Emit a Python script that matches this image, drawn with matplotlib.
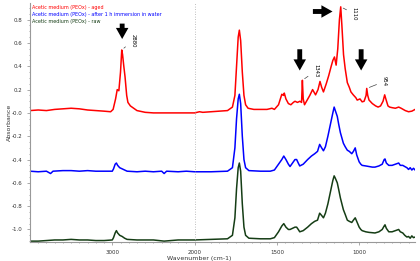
import numpy as np
import matplotlib
matplotlib.use("Agg")
import matplotlib.pyplot as plt
from matplotlib.ticker import FixedLocator, MultipleLocator

# spectra: wavenumber (cm-1), absorbance
wn_red = [4000, 3900, 3800, 3700, 3600, 3500, 3400, 3300, 3200, 3100, 3020, 2990, 2960, 2940,
          2920, 2900, 2885, 2875, 2860, 2845, 2825, 2810, 2780, 2740, 2700, 2600, 2500, 2400,
          2300, 2200, 2100, 2000, 1970, 1950, 1900, 1800, 1770, 1755, 1745, 1735, 1728, 1720,
          1710, 1700, 1690, 1675, 1640, 1600, 1560, 1530, 1515, 1490, 1470, 1460, 1455, 1445,
          1430, 1415, 1400, 1390, 1375, 1360, 1350, 1345, 1340, 1332, 1320, 1300, 1283, 1265,
          1250, 1238, 1228, 1217, 1200, 1185, 1170, 1160, 1150, 1140, 1130, 1120, 1112, 1105,
          1095, 1085, 1072, 1060, 1050, 1036, 1020, 1012, 995, 982, 970, 958, 954, 948, 940,
          920, 900, 885, 870, 855, 845, 838, 825, 815, 800, 780, 760, 745, 720, 700, 680, 660]
ab_red = [0.02, 0.025, 0.02, 0.03, 0.035, 0.04, 0.035, 0.025, 0.02, 0.015, 0.01, 0.03, 0.12, 0.20,
          0.19, 0.35, 0.54, 0.50, 0.40, 0.31, 0.15, 0.09, 0.06, 0.04, 0.02, 0.005, 0.0, 0.0,
          0.0, 0.0, 0.0, 0.0, 0.01, 0.005, 0.01, 0.02, 0.05, 0.15, 0.40, 0.65, 0.71, 0.62,
          0.35, 0.15, 0.07, 0.04, 0.03, 0.03, 0.03, 0.04, 0.03, 0.07, 0.16, 0.15, 0.17, 0.12,
          0.08, 0.07, 0.09, 0.10, 0.09, 0.10, 0.09, 0.28, 0.12, 0.07, 0.10, 0.15, 0.20, 0.155,
          0.20, 0.27, 0.22, 0.18, 0.25, 0.32, 0.40, 0.45, 0.48, 0.41, 0.55, 0.80, 0.91, 0.75,
          0.50, 0.38, 0.26, 0.22, 0.18, 0.155, 0.13, 0.11, 0.12, 0.095, 0.10, 0.15, 0.21, 0.15, 0.11,
          0.08, 0.06, 0.05, 0.06, 0.10, 0.155, 0.12, 0.06, 0.05, 0.045, 0.04, 0.05, 0.04, 0.02, 0.01, 0.015, 0.03]

wn_blue = [4000, 3900, 3800, 3750, 3720, 3600, 3500, 3400, 3300, 3200, 3100, 3000, 2985, 2965,
           2950, 2935, 2910, 2880, 2850, 2820, 2700, 2600, 2500, 2400, 2370, 2340, 2200, 2100,
           2000, 1900, 1800, 1770, 1755, 1745, 1735, 1728, 1720, 1710, 1700, 1690, 1670, 1600,
           1540, 1515, 1490, 1470, 1458, 1445, 1430, 1420, 1405, 1390, 1380, 1370, 1361, 1340,
           1313, 1290, 1270, 1253, 1240, 1228, 1217, 1205, 1190, 1175, 1160, 1152, 1145, 1133,
           1124, 1114, 1096, 1085, 1072, 1060, 1045, 1035, 1024, 1015, 1000, 990, 982, 960,
           940, 920, 904, 880, 860, 848, 843, 835, 820, 800, 780, 760, 750, 735, 723, 710,
           700, 690, 680, 670, 660]
ab_blue = [-0.50, -0.505, -0.50, -0.52, -0.50, -0.495, -0.495, -0.50, -0.495, -0.50, -0.50, -0.50, -0.48, -0.44,
           -0.43, -0.45, -0.47, -0.48, -0.49, -0.50, -0.505, -0.50, -0.505, -0.50, -0.52, -0.50, -0.505, -0.50,
           -0.505, -0.505, -0.50, -0.47, -0.30, -0.05, 0.12, 0.16, 0.08, -0.20, -0.40, -0.47, -0.495, -0.50,
           -0.50, -0.49, -0.44, -0.40, -0.37, -0.40, -0.44, -0.46, -0.43, -0.40, -0.40, -0.43, -0.455, -0.44,
           -0.40, -0.37, -0.35, -0.33, -0.27, -0.30, -0.325, -0.29, -0.20, -0.10, 0.0, 0.05, 0.02, -0.03,
           -0.10, -0.17, -0.26, -0.29, -0.32, -0.33, -0.35, -0.33, -0.30, -0.36, -0.42, -0.44, -0.45, -0.455,
           -0.46, -0.465, -0.465, -0.455, -0.44, -0.40, -0.395, -0.43, -0.45, -0.45, -0.44, -0.43, -0.45, -0.45, -0.46, -0.47,
           -0.485, -0.47, -0.49, -0.475, -0.49]

wn_green = [4000, 3900, 3800, 3700, 3600, 3500, 3400, 3300, 3200, 3100, 3000, 2985, 2965, 2950,
            2935, 2910, 2880, 2850, 2820, 2700, 2500, 2370, 2200, 2000, 1900, 1800, 1770, 1755,
            1745, 1735, 1728, 1720, 1710, 1700, 1690, 1670, 1600, 1540, 1515, 1490, 1470, 1458,
            1445, 1430, 1420, 1405, 1390, 1380, 1370, 1361, 1340, 1313, 1290, 1270, 1253, 1240,
            1228, 1217, 1205, 1190, 1175, 1160, 1152, 1145, 1133, 1124, 1114, 1096, 1085, 1072,
            1060, 1045, 1035, 1024, 1015, 1000, 990, 982, 960, 940, 904, 880, 860, 848, 843,
            835, 820, 800, 780, 760, 750, 735, 723, 710, 700, 690, 680, 670, 660]
ab_green = [-1.10, -1.10, -1.095, -1.09, -1.09, -1.085, -1.09, -1.09, -1.095, -1.095, -1.09, -1.07, -1.03, -1.01,
            -1.03, -1.05, -1.06, -1.075, -1.085, -1.09, -1.09, -1.10, -1.09, -1.09, -1.085, -1.08, -1.05, -0.90,
            -0.65, -0.47, -0.43, -0.50, -0.78, -0.98, -1.05, -1.075, -1.08, -1.08, -1.07, -1.02, -0.97, -0.95,
            -0.98, -1.00, -1.00, -0.99, -0.98, -0.98, -1.00, -1.02, -1.01, -0.98, -0.95, -0.93, -0.92, -0.86,
            -0.88, -0.90, -0.86, -0.78, -0.68, -0.58, -0.54, -0.56, -0.60, -0.66, -0.73, -0.83, -0.87, -0.92,
            -0.93, -0.94, -0.92, -0.90, -0.93, -0.98, -1.00, -1.01, -1.02, -1.025, -1.03, -1.02, -1.00, -0.97, -0.96,
            -0.99, -1.02, -1.02, -1.01, -1.00, -1.02, -1.03, -1.05, -1.065, -1.06, -1.075, -1.055, -1.07, -1.065]

legend_texts = ["Acetic medium (PEOx) - aged",
                "Acetic medium (PEOx) - after 1 h immersion in water",
                "Acetic medium (PEOx) - raw"]
peak_labels = ["2880", "1343", "1110", "954"]


def fwd(w):
    w = np.asarray(w, dtype=float)
    return np.where(w > 2000, 2000 + (w - 2000) * 0.5, w)


def inv(u):
    u = np.asarray(u, dtype=float)
    return np.where(u > 2000, 2000 + (u - 2000) * 2.0, u)


fig = plt.figure(figsize=(4.2, 2.61), dpi=100)
ax = fig.add_axes([0.0714, 0.073, 0.917, 0.916])

ax.plot(wn_red, ab_red, color="#ff0000", lw=1.1)
ax.plot(wn_blue, ab_blue, color="#0000ff", lw=1.1)
ax.plot(wn_green, ab_green, color="#153d15", lw=1.1)

ax.set_xscale("function", functions=(fwd, inv))
ax.set_xlim(4000, 660)
ax.set_ylim(-1.107, 0.944)

ax.axvline(2000, color="#aaaaaa", lw=0.6, ls=(0, (1, 2)))

ax.xaxis.set_major_locator(FixedLocator([3000, 2000, 1500, 1000]))
ax.xaxis.set_minor_locator(FixedLocator(list(range(3900, 2000, -100)) + list(range(1900, 650, -50))))
ax.yaxis.set_major_locator(FixedLocator([0.8, 0.6, 0.4, 0.2, 0.0, -0.2, -0.4, -0.6, -0.8, -1.0]))
ax.yaxis.set_minor_locator(MultipleLocator(0.05))
ax.set_yticklabels(["0.8", "0.6", "0.4", "0.2", "-0.0", "-0.2", "-0.4", "-0.6", "-0.8", "-1.0"])

for s in ["top", "right"]:
    ax.spines[s].set_visible(False)
for s in ["left", "bottom"]:
    ax.spines[s].set_color("#999999")
    ax.spines[s].set_linewidth(0.8)
ax.tick_params(which="both", colors="#888888", labelcolor="#333333", labelsize=4, length=2, width=0.5)
ax.tick_params(which="minor", length=1)

ax.set_xlabel("Wavenumber (cm-1)", fontsize=4.5, color="#333333")
ax.set_ylabel("Absorbance", fontsize=4.5, color="#333333")
ax.xaxis.set_label_coords(0.44, -0.06)
ax.yaxis.set_label_coords(-0.048, 0.5)

for i, (t, c) in enumerate(zip(legend_texts, ["#ff0000", "#0000ff", "#153d15"])):
    ax.text(0.004, 0.99 - i * 0.028, t, transform=ax.transAxes, fontsize=3.5, color=c,
            va="top", ha="left")

arrow = dict(arrowstyle="simple,head_width=0.9,head_length=0.8,tail_width=0.35",
             color="black", lw=0)
ax.annotate("", xy=(2880, 0.61), xytext=(2880, 0.79), arrowprops=arrow)
ax.annotate("", xy=(1361, 0.34), xytext=(1361, 0.57), arrowprops=arrow)
ax.annotate("", xy=(988, 0.34), xytext=(988, 0.57), arrowprops=arrow)
ax.annotate("", xy=(1145, 0.87), xytext=(1298, 0.87), arrowprops=arrow)

line = dict(arrowstyle="-", color="#444444", lw=0.5)
ax.annotate(peak_labels[0], xy=(2885, 0.54), xytext=(2780, 0.62), fontsize=3.8, rotation=-90,
            ha="left", va="center", arrowprops=line)
ax.annotate(peak_labels[1], xy=(1345, 0.28), xytext=(1280, 0.36), fontsize=3.8, rotation=-90,
            ha="left", va="center", arrowprops=line)
ax.annotate(peak_labels[2], xy=(1112, 0.91), xytext=(1045, 0.85), fontsize=3.8, rotation=-90,
            ha="left", va="center", arrowprops=line)
ax.annotate(peak_labels[3], xy=(954, 0.21), xytext=(862, 0.27), fontsize=3.8, rotation=-90,
            ha="left", va="center", arrowprops=line)

fig.savefig("out.png", dpi=100)
